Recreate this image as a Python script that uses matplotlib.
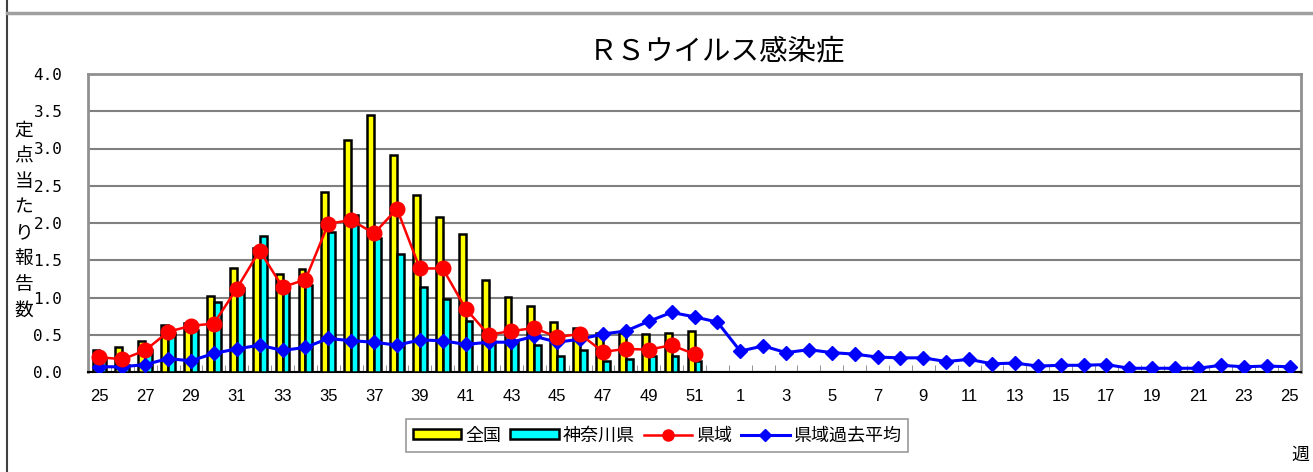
#  RSウイルス感染症 週別定点当たり報告数
import numpy as np
from matplotlib import pyplot as plt
from matplotlib.lines import Line2D

plt.rcParams['font.family'] = ['Noto Sans CJK JP', 'DejaVu Sans']

#  週 (25週〜52週, 1週〜25週)
weeks = list(range(25, 53)) + list(range(1, 26))

#  全国 (25〜51週)
zenkoku = [0.29, 0.33, 0.41, 0.63, 0.66, 1.02, 1.40, 1.67, 1.32, 1.38,
           2.42, 3.12, 3.45, 2.91, 2.37, 2.08, 1.85, 1.24, 1.01, 0.89,
           0.67, 0.59, 0.52, 0.52, 0.51, 0.52, 0.55]
#  神奈川県
kanagawa = [0.18, 0.10, 0.30, 0.52, 0.57, 0.94, 1.13, 1.83, 1.15, 1.17,
            1.88, 2.11, 1.80, 1.58, 1.14, 0.98, 0.68, 0.42, 0.41, 0.36,
            0.22, 0.29, 0.15, 0.17, 0.21, 0.22, 0.15]
#  県域
kenki = [0.20, 0.17, 0.29, 0.54, 0.62, 0.65, 1.12, 1.63, 1.14, 1.24,
         1.99, 2.04, 1.86, 2.19, 1.39, 1.39, 0.85, 0.50, 0.55, 0.59,
         0.47, 0.51, 0.27, 0.31, 0.30, 0.36, 0.24]
#  県域過去平均 (25週〜翌25週)
kako = [0.07, 0.07, 0.10, 0.18, 0.15, 0.25, 0.31, 0.36, 0.29, 0.33,
        0.45, 0.42, 0.40, 0.36, 0.43, 0.42, 0.37, 0.40, 0.40, 0.48,
        0.40, 0.44, 0.51, 0.55, 0.68, 0.80, 0.74, 0.67,
        0.28, 0.35, 0.26, 0.30, 0.26, 0.24, 0.20, 0.19, 0.19, 0.14,
        0.17, 0.11, 0.12, 0.08, 0.09, 0.09, 0.10, 0.05, 0.05, 0.05,
        0.05, 0.09, 0.07, 0.08, 0.07]

x = np.arange(len(weeks))
n = len(zenkoku)

fig = plt.figure(figsize=(13.13, 4.72), dpi=100)
ax = fig.add_axes([88 / 1313, 1 - 372 / 472, (1301 - 88) / 1313, (372 - 74) / 472])

#  外枠
fig.add_artist(Line2D([7 / 1313, 7 / 1313], [0, 1], color='#404040', lw=1.5))
fig.add_artist(Line2D([7 / 1313, 1], [1 - 12.5 / 472, 1 - 12.5 / 472], color='#a0a0a0', lw=2.5))

w = 0.3
ax.bar(x[:n] - w / 2, zenkoku, w, color='#ffff00', edgecolor='black', linewidth=1.8, zorder=3)
ax.bar(x[:n] + w / 2, kanagawa, w, color='#00ffff', edgecolor='black', linewidth=1.8, zorder=3)
ax.plot(x[:n], kenki, color='#ff0000', lw=1.8, marker='o', ms=10.5, zorder=5)
ax.plot(x, kako, color='#0000ff', lw=2.2, marker='D', ms=7, zorder=4)

ax.set_xlim(-0.5, len(weeks) - 0.5)
ax.set_ylim(0, 4.0)
ax.set_yticks(np.arange(0, 4.01, 0.5))
ax.set_yticklabels(['{:.1f}'.format(v) for v in np.arange(0, 4.01, 0.5)],
                   family='DejaVu Sans Mono', fontsize=11.5)
ax.tick_params(axis='y', length=0, pad=18.5)
ax.grid(axis='y', color='#808080', lw=1.5, zorder=0)

ax.set_xticks(x[::2])
ax.set_xticklabels([str(wk) for wk in weeks[::2]], family='Liberation Sans', fontsize=12)
ax.set_xticks(x[:-1] + 0.5, minor=True)
ax.tick_params(axis='x', which='major', length=0, pad=12)
ax.tick_params(axis='x', which='minor', direction='in', length=5, color='#808080')

for s in ['top', 'right', 'left']:
    ax.spines[s].set_color('#909090')
    ax.spines[s].set_linewidth(2)
ax.spines['bottom'].set_color('black')
ax.spines['bottom'].set_linewidth(1.5)

fig.text(717 / 1313, 1 - 51 / 472, 'ＲＳウイルス感染症', fontsize=20.5, ha='center', va='center')
fig.text(24 / 1313, 1 - 220 / 472, '\n'.join('定点当たり報告数'), fontsize=13.5,
         ha='center', va='center', linespacing=1.3)
fig.text(1300 / 1313, 1 - 455 / 472, '週', fontsize=13, ha='center', va='center')

handles = [
    plt.Rectangle((0, 0), 1, 1, facecolor='#ffff00', edgecolor='black', linewidth=1.8),
    plt.Rectangle((0, 0), 1, 1, facecolor='#00ffff', edgecolor='black', linewidth=1.8),
    Line2D([], [], color='#ff0000', lw=1.8, marker='o', ms=8),
    Line2D([], [], color='#0000ff', lw=2.2, marker='D', ms=6),
]
leg = fig.legend(handles, ['全国', '神奈川県', '県域', '県域過去平均'], ncol=4,
                 loc='center', bbox_to_anchor=(657 / 1313, 1 - 435.5 / 472),
                 fontsize=13, frameon=True, fancybox=False, handlelength=2.7,
                 handleheight=0.5, handletextpad=0.2, columnspacing=0.5,
                 borderpad=0.4, numpoints=1)
leg.get_frame().set_edgecolor('#808080')
leg.get_frame().set_linewidth(1.2)

plt.savefig('out.png', dpi=100)
